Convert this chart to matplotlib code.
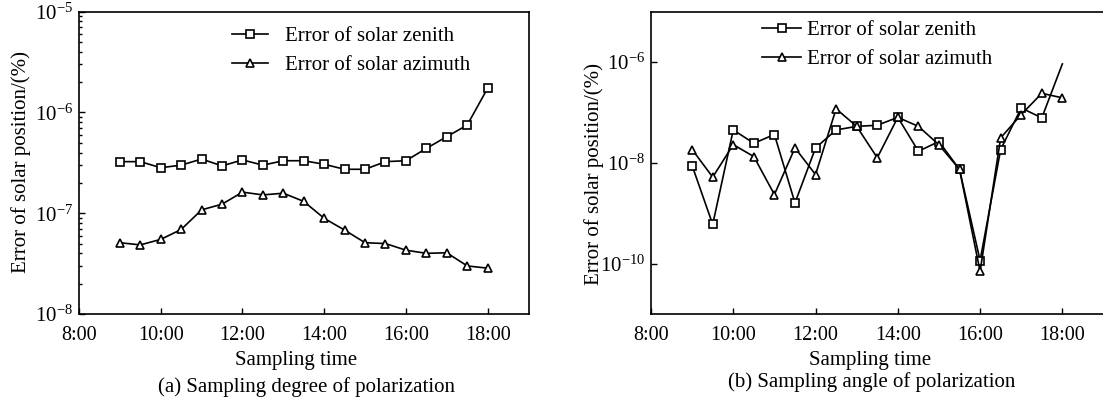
#!/usr/bin/env python3

""" Solar position error vs sampling time, two panels (log scale) """

import numpy as np
import matplotlib
matplotlib.use('Agg')
import matplotlib.pyplot as plt
from matplotlib.ticker import LogLocator, NullFormatter, LogFormatterSciNotation

plt.rcParams['font.family'] = ['Liberation Serif', 'DejaVu Serif']
plt.rcParams['mathtext.fontset'] = 'custom'
plt.rcParams['mathtext.rm'] = 'Liberation Serif'
plt.rcParams['mathtext.it'] = 'Liberation Serif:italic'

# sampling times (hours), 9:00 .. 18:00 every half hour
hours = [9, 9.5, 10, 10.5, 11, 11.5, 12, 12.5, 13, 13.5,
         14, 14.5, 15, 15.5, 16, 16.5, 17, 17.5, 18]
tick_hours = [8, 10, 12, 14, 16, 18]
tick_labels = ['8:00', '10:00', '12:00', '14:00', '16:00', '18:00']

# (a) sampling degree of polarization
zenith_a = [3.25e-7, 3.25e-7, 2.83e-7, 3.0e-7, 3.45e-7, 2.95e-7, 3.38e-7,
            3.0e-7, 3.32e-7, 3.32e-7, 3.06e-7, 2.73e-7, 2.73e-7, 3.25e-7,
            3.32e-7, 4.4e-7, 5.75e-7, 7.5e-7, 1.74e-6]
azimuth_a = [5.1e-8, 4.85e-8, 5.5e-8, 6.9e-8, 1.08e-7, 1.23e-7, 1.62e-7,
             1.52e-7, 1.58e-7, 1.31e-7, 8.9e-8, 6.8e-8, 5.1e-8, 5.0e-8,
             4.3e-8, 4.0e-8, 4.05e-8, 3.0e-8, 2.85e-8]

# (b) sampling angle of polarization
zenith_b = [8.8e-9, 6.0e-10, 4.5e-8, 2.45e-8, 3.65e-8, 1.6e-9, 1.98e-8,
            4.5e-8, 5.3e-8, 5.57e-8, 8.0e-8, 1.7e-8, 2.65e-8, 7.4e-9,
            1.15e-10, 1.84e-8, 1.23e-7, 7.8e-8, 9.2e-7]
azimuth_b = [1.84e-8, 5.2e-9, 2.3e-8, 1.33e-8, 2.35e-9, 1.98e-8, 5.86e-9,
             1.18e-7, 5.3e-8, 1.26e-8, 8.0e-8, 5.3e-8, 2.28e-8, 7.4e-9,
             7.0e-11, 3.13e-8, 9.1e-8, 2.4e-7, 1.95e-7]

W, H = 1103, 400
fig = plt.figure(figsize=(W / 100, H / 100), dpi=100)

def px_axes(x0, x1, y0, y1):
    return fig.add_axes([x0 / W, 1 - y1 / H, (x1 - x0) / W, (y1 - y0) / H])

ax1 = px_axes(79, 528.5, 11.7, 314)
ax2 = px_axes(651, 1103.5, 11.7, 314)

mk = dict(color='black', lw=1.2, ms=6, mfc='white', mec='black', mew=1.2)

ax1.plot(hours, zenith_a, marker='s', label='Error of solar zenith', **mk)
ax1.plot(hours, azimuth_a, marker='^', label='Error of solar azimuth', **mk)

# last zenith point of (b) has no marker
ax2.plot(hours, zenith_b, marker='s', markevery=list(range(18)),
         label='Error of solar zenith', **mk)
ax2.plot(hours, azimuth_b, marker='^', label='Error of solar azimuth', **mk)

for ax in (ax1, ax2):
    ax.set_yscale('log')
    ax.set_xlim(8, 19)
    ax.set_xticks(tick_hours)
    ax.set_xticklabels(tick_labels, fontsize=14.5)
    ax.tick_params(axis='x', direction='in', length=4, width=1, pad=9)
    ax.tick_params(axis='y', which='both', direction='in', width=1, labelsize=15, pad=4)
    ax.tick_params(axis='y', which='major', length=4)
    ax.tick_params(axis='y', which='minor', length=2.5)
    for s in ax.spines.values():
        s.set_linewidth(1.2)

ax1.set_ylim(1e-8, 1e-5)
ax1.yaxis.set_major_locator(LogLocator(base=10, numticks=10))
ax1.yaxis.set_major_formatter(LogFormatterSciNotation())
ax1.yaxis.set_minor_locator(LogLocator(base=10, subs=np.arange(2, 10), numticks=20))
ax1.yaxis.set_minor_formatter(NullFormatter())

ax2.set_ylim(1e-11, 1e-5)
ax2.set_yticks([1e-10, 1e-8, 1e-6])
ax2.yaxis.set_major_formatter(LogFormatterSciNotation())
ax2.yaxis.set_minor_locator(plt.NullLocator())

leg1 = ax1.legend(loc='upper left', bbox_to_anchor=(0.34, 0.95), frameon=False,
                  fontsize=15, numpoints=1, handlelength=1.75, handletextpad=0.8,
                  labelspacing=0.45, borderpad=0, borderaxespad=0)
leg2 = ax2.legend(loc='upper left', bbox_to_anchor=(0.245, 0.97), frameon=False,
                  fontsize=15, numpoints=1, handlelength=1.9, handletextpad=0.25,
                  labelspacing=0.45, borderpad=0, borderaxespad=0)

# axis titles and captions
fig.text(21 / W, 1 - 162 / H, 'Error of solar position/(%)', rotation=90,
         ha='center', va='center', fontsize=15)
fig.text(594 / W, 1 - 174 / H, 'Error of solar position/(%)', rotation=90,
         ha='center', va='center', fontsize=15)
fig.text(296 / W, 1 - 360 / H, 'Sampling time', ha='center', va='center', fontsize=15)
fig.text(306 / W, 1 - 387 / H, '(a) Sampling degree of polarization',
         ha='center', va='center', fontsize=15)
fig.text(870 / W, 1 - 360 / H, 'Sampling time', ha='center', va='center', fontsize=15)
fig.text(872 / W, 1 - 382 / H, '(b) Sampling angle of polarization',
         ha='center', va='center', fontsize=15)

fig.savefig('out.png', dpi=100)
